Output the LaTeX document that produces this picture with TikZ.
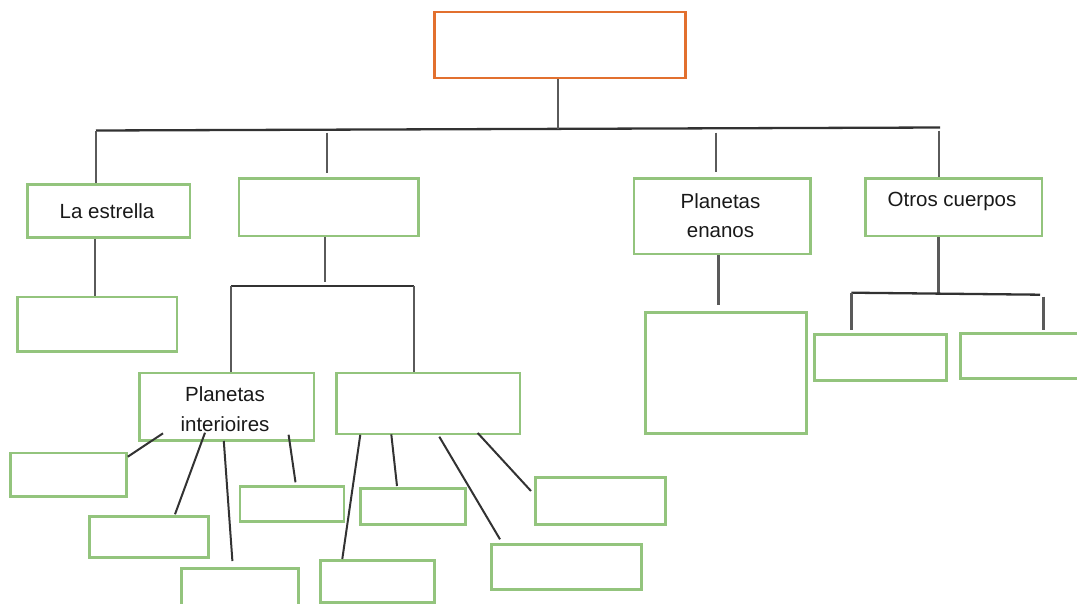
\documentclass[tikz,border=0pt]{standalone}
\usepackage{fontspec}
\setmainfont{Liberation Sans}
\definecolor{boxgreen}{RGB}{147,196,125}
\definecolor{boxorange}{RGB}{226,112,47}
\definecolor{linegrey}{RGB}{90,90,90}
\definecolor{bargrey}{RGB}{50,50,50}
\tikzset{
  gbox/.style={draw=boxgreen, line width=2.8pt, rectangle, inner sep=0pt, align=center,
    font=\fontsize{20.5}{29.5}\selectfont},
  obox/.style={draw=boxorange, line width=2.6pt, rectangle, inner sep=0pt},
  conn/.style={draw=linegrey, line width=2.5pt},
  thin/.style={draw=bargrey, line width=2pt},
  bar/.style={draw=bargrey, line width=2.3pt},
  lbl/.style={font=\fontsize{20.5}{29.5}\selectfont, align=center, text=black!90},
}
\newcommand{\bx}[6]{% name, x1, y1, x2, y2, style
  \node[#6, minimum width=#4pt-#2pt, minimum height=#5pt-#3pt, anchor=north west] (#1) at (#2,#3) {};}
\begin{document}
\begin{tikzpicture}[x=1pt,y=-1pt]
\useasboundingbox (0,0) rectangle (1077,603);
\clip (0,0) rectangle (1077,603);
% boxes
\bx{top}{433}{10.5}{684}{76.5}{obox}
\bx{est}{26}{183}{188.5}{236}{gbox}
\bx{b2}{237.5}{177}{417}{234.5}{gbox}
\bx{enan}{632.5}{177}{809}{252.5}{gbox}
\bx{otros}{864}{177}{1040.5}{234.5}{gbox}
\bx{estc}{16}{295.5}{175.5}{350}{gbox}
\bx{pint}{138}{371.5}{312.5}{439}{gbox}
\bx{b3}{334.7}{371.5}{518.6}{432.5}{gbox}
\bx{l1}{9}{451.5}{125}{495}{gbox}
\bx{l2}{88}{515}{207}{556}{gbox}
\bx{l3}{180}{567}{297}{620}{gbox}
\bx{l4}{238.6}{485}{342.6}{520}{gbox}
\bx{r1}{319}{559}{432.7}{600.7}{gbox}
\bx{r2}{358.7}{486.7}{463.7}{523.3}{gbox}
\bx{r3}{489.7}{542.7}{640}{587.7}{gbox}
\bx{r4}{533.7}{475.7}{663.7}{523.3}{gbox}
\bx{enanc}{643.7}{311}{805}{431.7}{gbox}
\bx{oc1}{813}{333.3}{944.7}{379}{gbox}
\bx{oc2}{958.7}{331.7}{1100}{377}{gbox}
% texts
\node[lbl] (testr) at (107,211) {La estrella};
\node[lbl] (tenan) at (720.5,215.5) {Planetas\\enanos};
\node[lbl] (totros) at (952,201) {Otros cuerpos};
\node[lbl] (tpint) at (225,409) {Planetas\\interioires};
% coordinates for the bars
\coordinate (barL) at (96,130.5);
\coordinate (barR) at (940,127.5);
\coordinate (barT) at (558,129);
\coordinate (bar2) at (327,129.5);
\coordinate (bar3) at (716,128.5);
\coordinate (bar4) at (939,127.5);
\coordinate (sbL) at (231,286);
\coordinate (sbR) at (414,286);
\coordinate (sbM) at (325,286);
\coordinate (obL) at (851.3,292.7);
\coordinate (obR) at (1040,294.7);
\coordinate (obM) at (938.3,293.5);
% main bar
\draw[bar] (barL) -- (barR);
\draw[conn] (top.south -| barT) -- (barT);
\draw[conn] (barL) -- (est.north -| barL);
\draw[conn] ([yshift=-3pt]bar2) -- ([yshift=4pt]b2.north -| bar2);
\draw[conn] ([yshift=-4pt]bar3) -- ([yshift=5pt]enan.north -| bar3);
\draw[conn] ([yshift=-3pt]bar4) -- (otros.north -| bar4);
% la estrella
\draw[conn] (est.south -| 95,0) -- (estc.north -| 95,0);
% second box
\draw[conn] (b2.south -| sbM) -- ([yshift=4pt]sbM);
\draw[bar] (sbL) -- (sbR);
\draw[conn] (sbL) -- (pint.north -| sbL);
\draw[conn] (sbR) -- (b3.north -| sbR);
% planetas interiores children
\draw[thin] (163,433.3) -- (l1.north east |- 0,456.7);
\draw[thin] (205,432.7) -- (175,514.3);
\draw[thin] (223.8,441) -- (232.4,561);
\draw[thin] (288.6,434.7) -- (295.5,482.3);
% b3 children
\draw[thin] (360.3,434.7) -- (342.3,559);
\draw[thin] (391.3,434.3) -- (397,486);
\draw[thin] (439.3,436.7) -- (500,539.3);
\draw[thin] (477.7,433) -- (531,491);
% planetas enanos
\draw[conn] (enan.south -| 718.7,0) -- ([yshift=6pt]enanc.north -| 718.7,0);
% otros cuerpos
\draw[conn] (otros.south -| obM) -- (obM);
\draw[bar] (obL) -- (obR);
\draw[conn] (obL) -- ([yshift=3pt]oc1.north -| obL);
\draw[conn] (1043.3,296.7) -- ([yshift=2pt]oc2.north -| 1043.3,0);
\end{tikzpicture}
\end{document}
